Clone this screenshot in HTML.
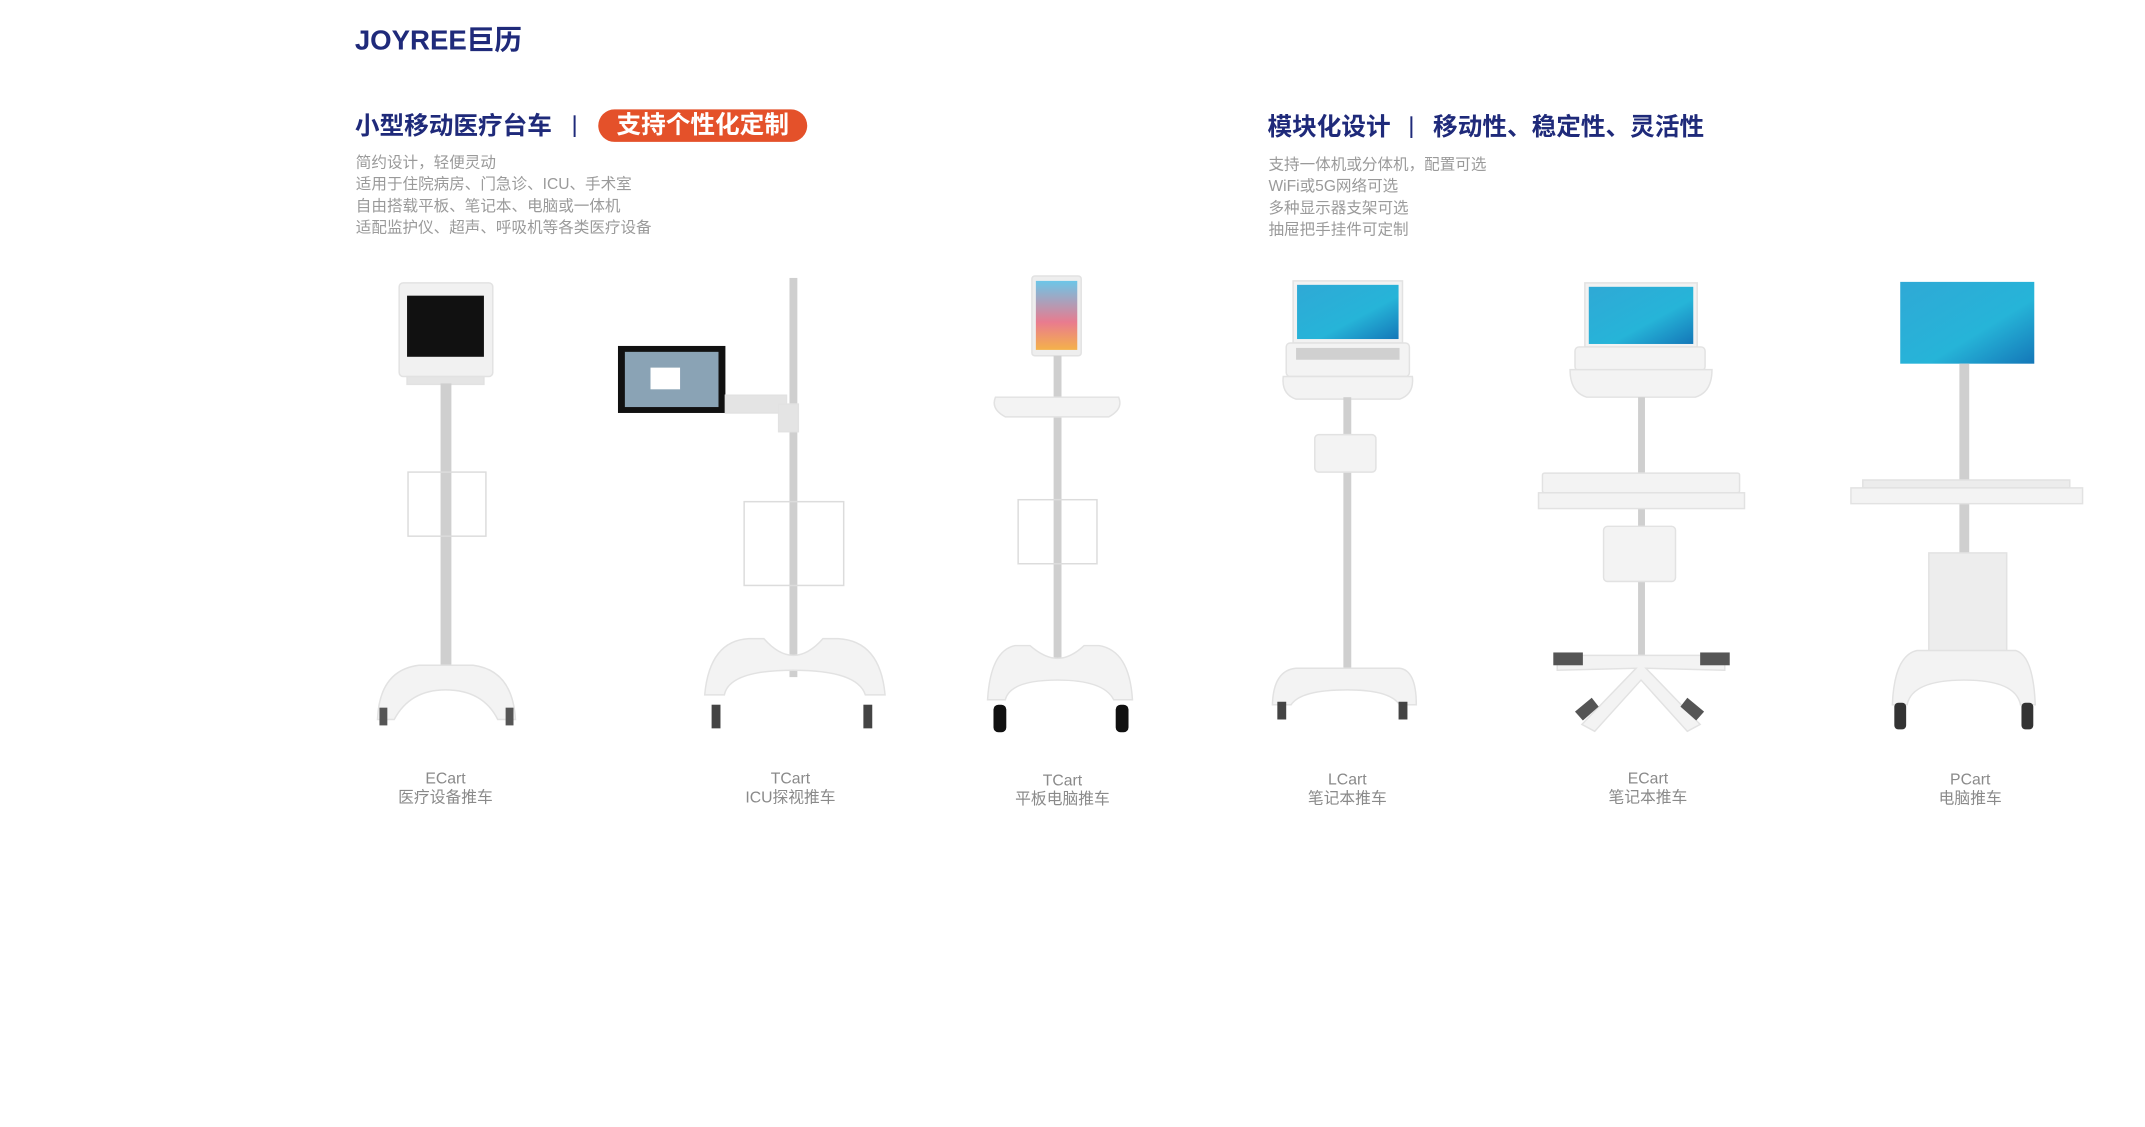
<!DOCTYPE html>
<html><head><meta charset="utf-8">
<style>
html,body{margin:0;padding:0;background:#fff;}
body{width:2145px;height:1126px;position:relative;overflow:hidden;font-family:"Liberation Sans","Noto Sans CJK SC",sans-serif;}
#w{position:absolute;left:0;top:0;width:2177px;height:1143px;transform:scale(0.9856);transform-origin:0 0;}
.abs{position:absolute;white-space:nowrap;}
.logo{left:360px;top:19px;font-size:28px;font-weight:bold;color:#1f2a7a;}
.t{font-size:25px;font-weight:bold;color:#1f2a7a;line-height:30px;}
.sep{width:2px;height:22px;background:#1f2a7a;}
.pill{left:607px;top:111px;width:212px;height:33px;border-radius:17px;background:#e4512a;color:#fff;font-size:25px;font-weight:bold;text-align:center;line-height:33px;}
.body{font-size:15.8px;color:#9a9a9a;line-height:22px;}
.cap{font-size:16px;color:#8a8a8a;text-align:center;line-height:19px;width:200px;}
</style></head><body>
<div id="w">
<div class="abs logo">JOYREE巨历</div>

<div class="abs t" style="left:360px;top:113px;">小型移动医疗台车</div>
<div class="abs sep" style="left:582px;top:117px;"></div>
<div class="abs pill">支持个性化定制</div>
<div class="abs body" style="left:361px;top:155px;">简约设计，轻便灵动<br>适用于住院病房、门急诊、ICU、手术室<br>自由搭载平板、笔记本、电脑或一体机<br>适配监护仪、超声、呼吸机等各类医疗设备</div>

<div class="abs t" style="left:1286px;top:114px;">模块化设计</div>
<div class="abs sep" style="left:1431px;top:118px;"></div>
<div class="abs t" style="left:1454px;top:114px;">移动性、稳定性、灵活性</div>
<div class="abs body" style="left:1287px;top:157px;">支持一体机或分体机，配置可选<br>WiFi或5G网络可选<br>多种显示器支架可选<br>抽屉把手挂件可定制</div>

<svg class="abs" style="left:0;top:0" width="2177" height="1143">
<defs>
<linearGradient id="blue" x1="0" y1="0" x2="1" y2="1"><stop offset="0" stop-color="#2fa9d6"/><stop offset="0.6" stop-color="#26b4d8"/><stop offset="1" stop-color="#1477b8"/></linearGradient>
<linearGradient id="ipad" x1="0" y1="0" x2="0" y2="1"><stop offset="0" stop-color="#6cc6e8"/><stop offset="0.6" stop-color="#e97b8e"/><stop offset="1" stop-color="#f4b24a"/></linearGradient>
</defs>
<g fill="#f3f3f3" stroke="#e2e2e2" stroke-width="1.5">
<rect x="405" y="287" width="95" height="95" rx="4" fill="#f1f1f1"/>
<rect x="413" y="300" width="78" height="62" fill="#111" stroke="none"/>
<rect x="413" y="382" width="78" height="8" fill="#e5e5e5"/>
<rect x="447" y="389" width="11" height="298" fill="#cfcfcf" stroke="none"/>
<rect x="414" y="479" width="79" height="65" fill="none" stroke="#dcdcdc"/>
<path d="M383 730 Q385 680 425 675 L480 675 Q520 680 523 730 L505 730 Q490 700 452 700 Q416 700 400 730 Z"/>
<rect x="385" y="718" width="8" height="18" fill="#555" stroke="none"/><rect x="513" y="718" width="8" height="18" fill="#555" stroke="none"/>
<rect x="801" y="282" width="8" height="405" fill="#cfcfcf" stroke="none"/>
<rect x="627" y="351" width="109" height="68" fill="#111" stroke="none"/>
<rect x="634" y="357" width="95" height="56" fill="#8aa3b5" stroke="none"/>
<rect x="660" y="373" width="30" height="22" fill="#fff" stroke="none"/>
<rect x="736" y="401" width="62" height="18" fill="#e4e4e4"/>
<rect x="790" y="410" width="20" height="28" fill="#e4e4e4"/>
<rect x="755" y="509" width="101" height="85" fill="none" stroke="#dcdcdc"/>
<path d="M715 705 Q720 650 760 648 L775 648 Q790 665 805 665 Q820 665 835 648 L850 648 Q893 650 898 705 L878 705 Q870 680 805 680 Q740 680 735 705 Z"/>
<rect x="722" y="715" width="9" height="24" fill="#444" stroke="none"/><rect x="876" y="715" width="9" height="24" fill="#444" stroke="none"/>
<rect x="1047" y="280" width="50" height="81" rx="3" fill="#eee"/>
<rect x="1051" y="285" width="42" height="70" fill="url(#ipad)" stroke="none"/>
<rect x="1069" y="361" width="8" height="320" fill="#cfcfcf" stroke="none"/>
<path d="M1010 403 L1135 403 Q1140 415 1125 423 L1020 423 Q1005 415 1010 403Z"/>
<rect x="1033" y="507" width="80" height="65" fill="none" stroke="#dcdcdc"/>
<path d="M1002 710 Q1005 660 1030 655 L1045 655 Q1060 668 1073 668 Q1086 668 1100 655 L1115 655 Q1146 660 1149 710 L1130 710 Q1120 690 1073 690 Q1025 690 1020 710 Z"/>
<rect x="1008" y="715" width="13" height="28" rx="5" fill="#111" stroke="none"/><rect x="1132" y="715" width="13" height="28" rx="5" fill="#111" stroke="none"/>
<rect x="1312" y="285" width="111" height="63" fill="#f2f2f2"/>
<rect x="1316" y="289" width="103" height="55" fill="url(#blue)" stroke="none"/>
<rect x="1305" y="348" width="125" height="34" rx="4"/>
<rect x="1315" y="353" width="105" height="12" fill="#d0d0d0" stroke="none"/>
<path d="M1302 382 L1433 382 Q1435 400 1420 405 L1315 405 Q1300 400 1302 382Z"/>
<rect x="1363" y="403" width="8" height="292" fill="#cfcfcf" stroke="none"/>
<rect x="1334" y="441" width="62" height="38" rx="4"/>
<path d="M1291 715 Q1292 680 1315 678 L1420 678 Q1437 680 1437 715 L1420 715 Q1410 700 1367 700 Q1320 700 1310 715 Z"/>
<rect x="1296" y="712" width="9" height="18" fill="#444" stroke="none"/><rect x="1419" y="712" width="9" height="18" fill="#444" stroke="none"/>
<rect x="1608" y="287" width="114" height="65" fill="#f2f2f2"/>
<rect x="1612" y="291" width="106" height="58" fill="url(#blue)" stroke="none"/>
<rect x="1598" y="352" width="132" height="24" rx="4"/>
<path d="M1593 375 L1737 375 Q1737 398 1720 403 L1610 403 Q1593 398 1593 375Z"/>
<rect x="1662" y="403" width="7" height="270" fill="#cfcfcf" stroke="none"/>
<rect x="1565" y="480" width="200" height="20" rx="2"/>
<rect x="1561" y="500" width="209" height="16"/>
<rect x="1627" y="534" width="73" height="56" rx="4"/>
<path d="M1665 665 L1580 665 L1580 680 L1660 678 L1605 735 L1618 742 L1665 690 L1712 742 L1725 735 L1670 678 L1750 680 L1750 665 Z"/>
<rect x="1576" y="662" width="30" height="13" fill="#555" stroke="none"/><rect x="1725" y="662" width="30" height="13" fill="#555" stroke="none"/>
<path d="M1598 722 L1615 708 L1622 717 L1606 731Z" fill="#555" stroke="none"/><path d="M1712 708 L1729 722 L1721 731 L1705 717Z" fill="#555" stroke="none"/>
<rect x="1928" y="286" width="136" height="83" fill="url(#blue)" stroke="none"/>
<rect x="1988" y="369" width="10" height="312" fill="#cfcfcf" stroke="none"/>
<rect x="1890" y="487" width="210" height="8" fill="#ececec"/>
<rect x="1878" y="495" width="235" height="16"/>
<rect x="1957" y="561" width="79" height="119" fill="#ededed"/>
<path d="M1920 715 Q1922 665 1945 660 L2045 660 Q2063 665 2065 715 L2050 715 Q2045 690 1993 690 Q1940 690 1935 715 Z"/>
<rect x="1922" y="713" width="12" height="27" rx="4" fill="#333" stroke="none"/><rect x="2051" y="713" width="12" height="27" rx="4" fill="#333" stroke="none"/>
</g>
</svg>

<div class="abs cap" style="left:352px;top:781px;">ECart<br>医疗设备推车</div>
<div class="abs cap" style="left:702px;top:781px;">TCart<br>ICU探视推车</div>
<div class="abs cap" style="left:978px;top:783px;">TCart<br>平板电脑推车</div>
<div class="abs cap" style="left:1267px;top:782px;">LCart<br>笔记本推车</div>
<div class="abs cap" style="left:1572px;top:781px;">ECart<br>笔记本推车</div>
<div class="abs cap" style="left:1899px;top:782px;">PCart<br>电脑推车</div>
</div>
</body></html>
